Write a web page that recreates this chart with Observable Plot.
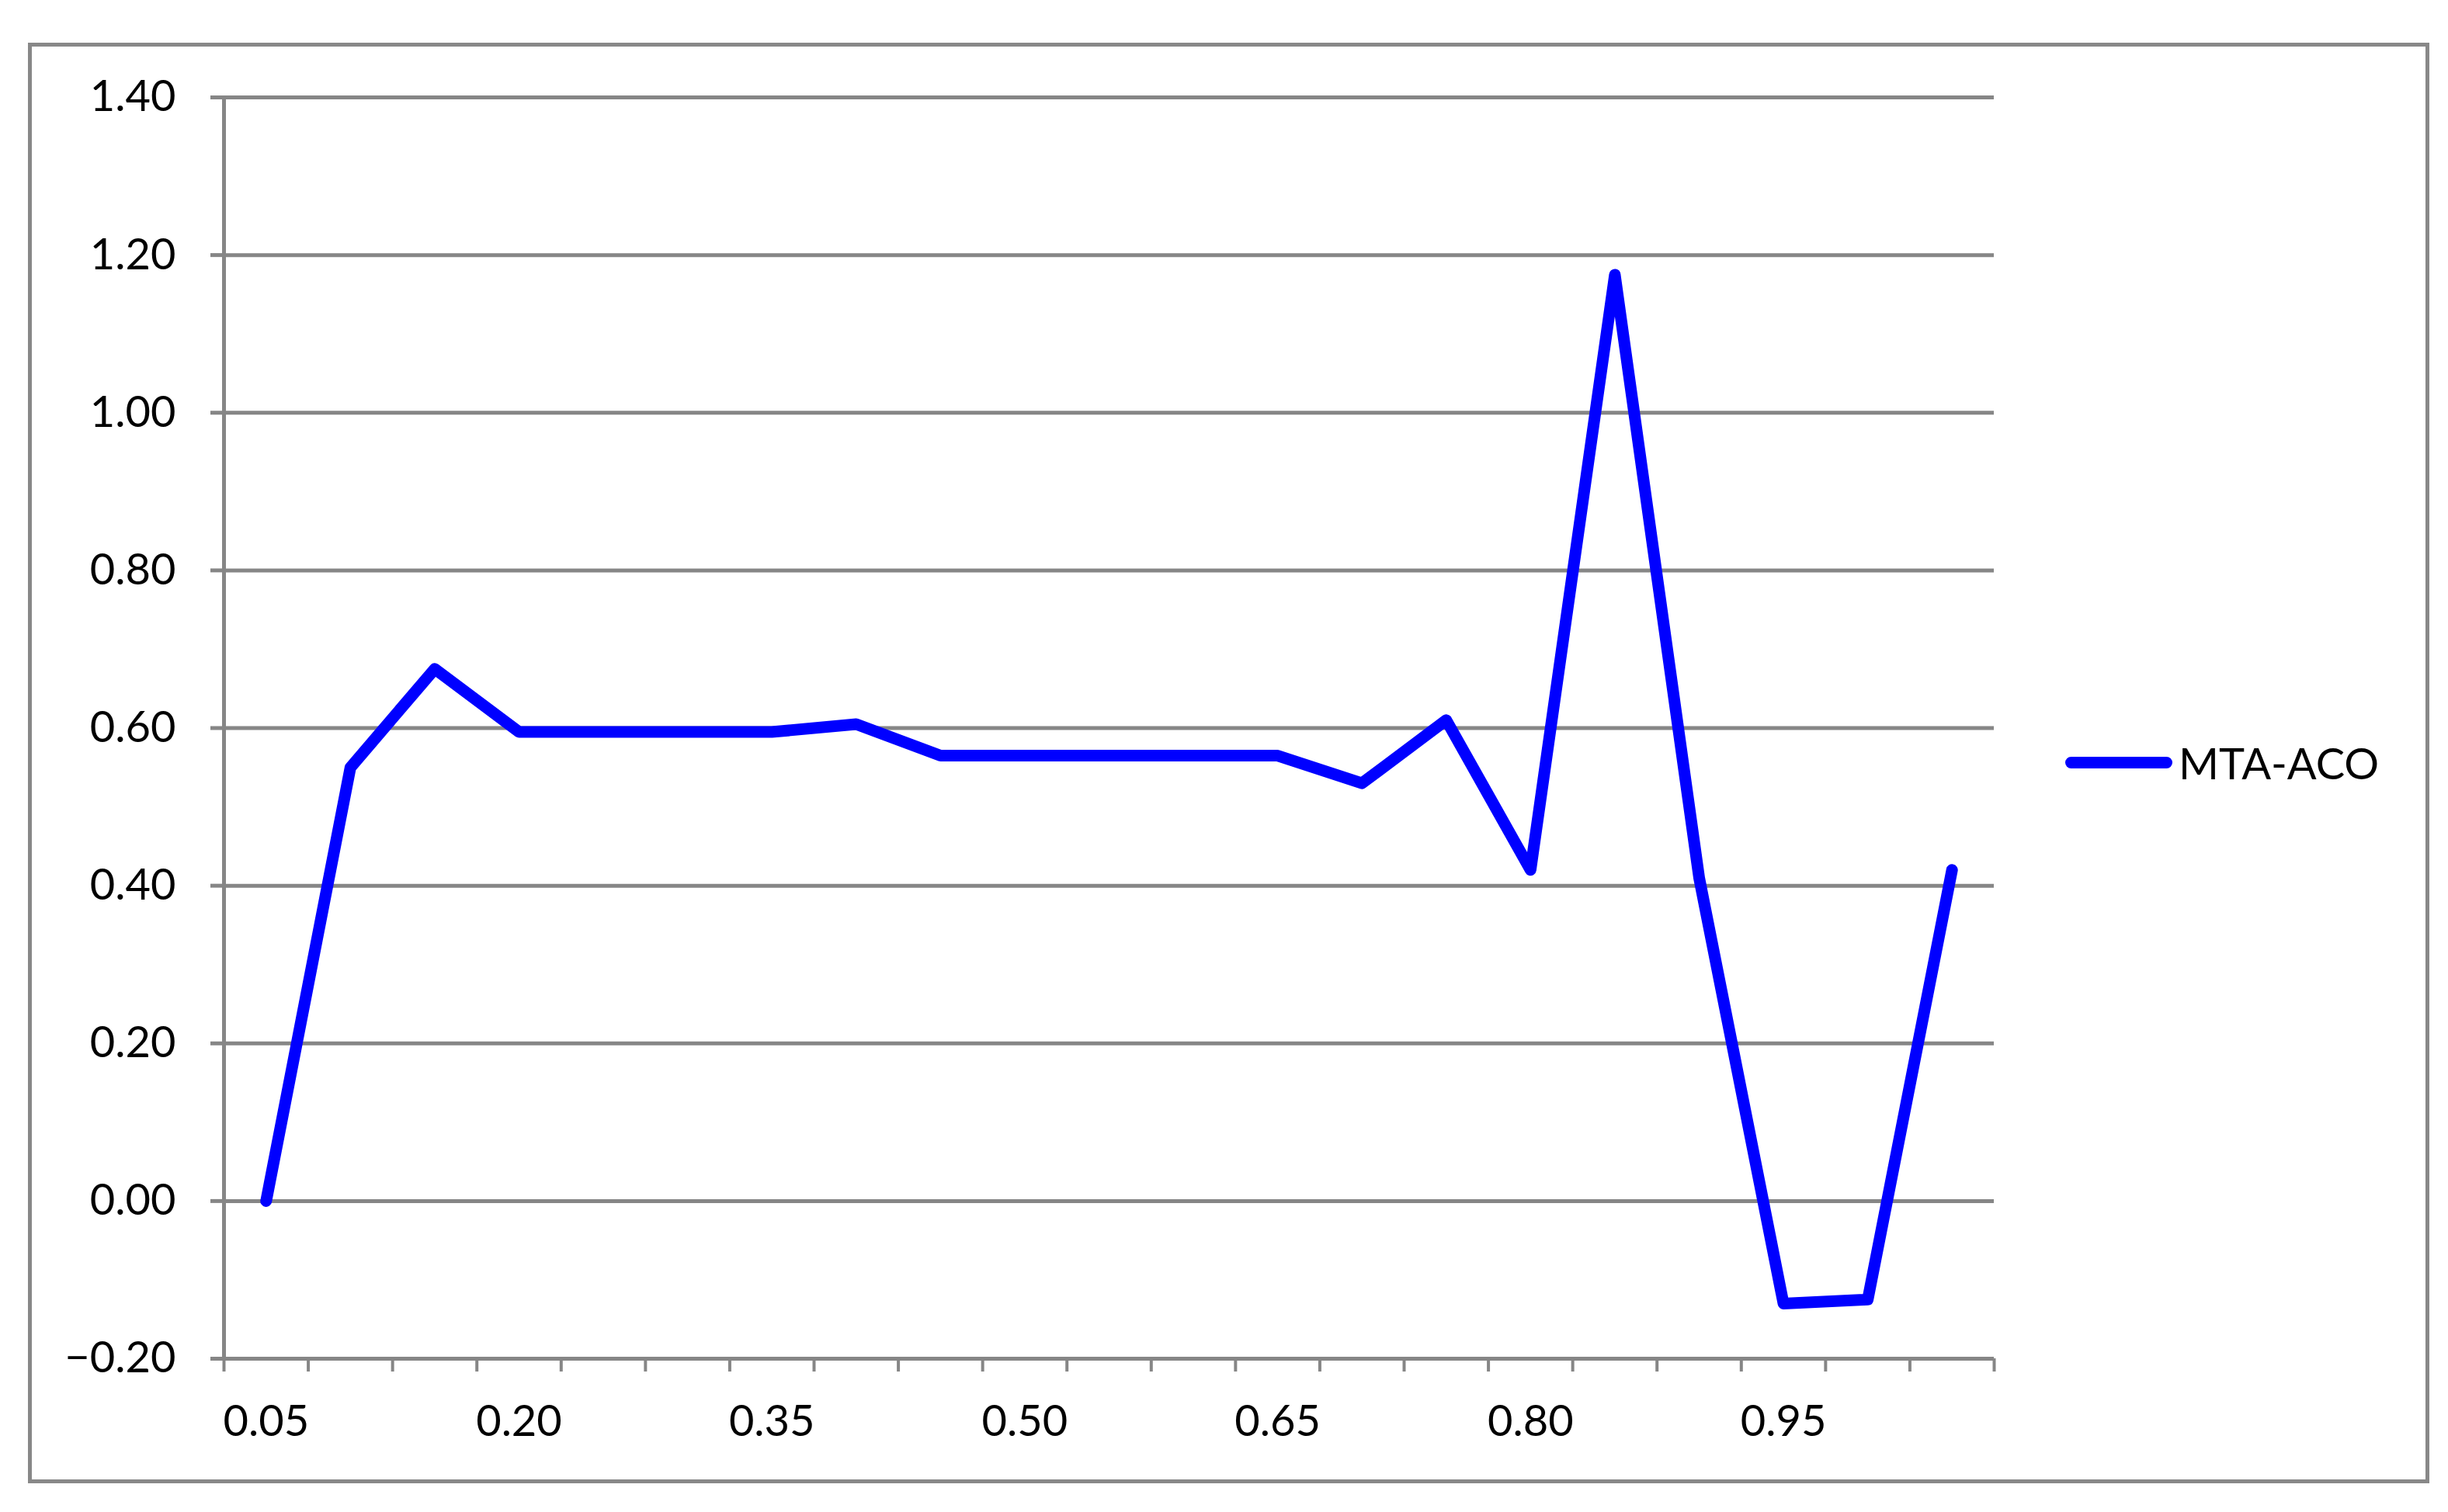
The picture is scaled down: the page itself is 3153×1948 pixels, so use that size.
<!DOCTYPE html>
<html>
<head>
<meta charset="utf-8">
<script src="https://cdn.jsdelivr.net/npm/d3@7"></script>
<script src="https://cdn.jsdelivr.net/npm/@observablehq/plot@0.6"></script>
<style>
  html, body { margin: 0; padding: 0; background: #fff; }
  #wrap { position: relative; width: 3153px; height: 1948px; font-family: Lato, "Open Sans", sans-serif; overflow: hidden; }
  #frame { position: absolute; left: 36px; top: 55px; width: 3093px; height: 1856px; border: 5px solid #888; box-sizing: border-box; }
  #chart { position: absolute; left: 0; top: 0; }
  #legend { position: absolute; left: 2660px; top: 946px; height: 72px; display: flex; align-items: center; font-size: 56px; color: #000; }
  #legend .sw { width: 138px; height: 15px; background: #0000FF; border-radius: 8px; margin-right: 8px; }
</style>
</head>
<body>
<div id="wrap">
  <div id="frame"></div>
  <div id="chart"></div>
  <div id="legend"><span class="sw"></span><span id="legend-label"></span></div>
</div>
<script>
// Categories (x axis) and series values
const categories = ["0.05","0.10","0.15","0.20","0.25","0.30","0.35","0.40","0.45","0.50",
                    "0.55","0.60","0.65","0.70","0.75","0.80","0.85","0.90","0.95","1.00","1.05"];
const seriesName = "MTA-ACO";
const values = [0.00, 0.55, 0.675, 0.595, 0.595, 0.595, 0.595, 0.605, 0.565, 0.565,
                0.565, 0.565, 0.565, 0.53, 0.61, 0.42, 1.175, 0.41, -0.13, -0.125, 0.42];
const yTicks = [-0.2, 0, 0.2, 0.4, 0.6, 0.8, 1.0, 1.2, 1.4];
const xLabelEvery = 3;

const n = categories.length;
const table = categories.map((c, i) => ({cat: c, pos: i + 0.5, v: values[i]}));
const boundaries = d3.range(0, n + 1);
const labelPos = d3.range(0, n, xLabelEvery).map(i => i + 0.5);
const gray = "#868686";

const chart = Plot.plot({
  width: 3153,
  height: 1948,
  marginLeft: 288,
  marginRight: 585,
  marginTop: 125,
  marginBottom: 198,
  style: {fontFamily: "Lato, 'Open Sans', sans-serif", fontSize: "56px", color: "#000", background: "transparent", overflow: "visible"},
  x: {type: "linear", domain: [0, n]},
  y: {domain: [-0.2, 1.4]},
  marks: [
    Plot.gridY(yTicks, {stroke: gray, strokeOpacity: 1, strokeWidth: 5}),
    Plot.ruleX([0], {stroke: gray, strokeWidth: 5}),
    Plot.axisY(yTicks, {tickSize: 17, tickPadding: 45, tickFormat: d3.format(".2f"), stroke: gray, strokeWidth: 5, fill: "#000", label: null}),
    Plot.axisX(boundaries, {tickSize: 17, tickFormat: () => "", stroke: gray, strokeWidth: 4, label: null}),
    Plot.axisX(labelPos, {tickSize: 0, tickPadding: 60, tickFormat: d => categories[Math.round(d - 0.5)], fill: "#000", label: null}),
    Plot.line(table, {x: "pos", y: "v", stroke: "#0000FF", strokeWidth: 15})
  ]
});
document.getElementById("chart").appendChild(chart);
document.getElementById("legend-label").textContent = seriesName;
</script>
</body>
</html>
